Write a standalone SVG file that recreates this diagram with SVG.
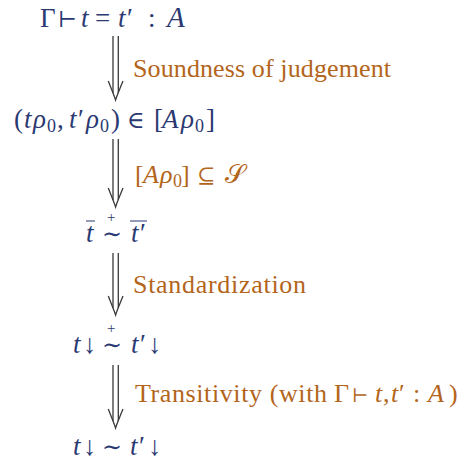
<svg xmlns="http://www.w3.org/2000/svg" width="467" height="466" viewBox="0 0 467 466">
<defs>
<path id="arrowhead" d="M-7.3,-19C-4.6,-12 -1.6,-5 0,0C1.6,-5 4.6,-12 7.4,-19"/>
</defs>
<rect width="467" height="466" fill="#fff"/>
<g id="connectors" fill="none" stroke="#3a3a3a" stroke-width="1.3">
<g id="e1"><path d="M113,36V93M118.3,36V93"/><use href="#arrowhead" x="115.6" y="100"/></g>
<g id="e2"><path d="M113,139V200M118.3,139V200"/><use href="#arrowhead" x="115.6" y="207"/></g>
<g id="e3"><path d="M113,253V308M118.3,253V308"/><use href="#arrowhead" x="115.6" y="315"/></g>
<g id="e4"><path d="M113,365V421M118.3,365V421"/><use href="#arrowhead" x="115.6" y="428"/></g>
</g>
<g id="labels" fill="#b3651b" font-size="26" font-family="Liberation Serif">
<text id="l1" x="133" y="77" textLength="258">Soundness of judgement</text>
<text id="l2" y="183"><tspan x="135">[</tspan><tspan x="143" font-style="italic">A</tspan><tspan x="160" font-style="italic">ρ</tspan><tspan x="173" y="187" font-size="18">0</tspan><tspan x="181" y="183">]</tspan><tspan x="197" font-family="DejaVu Serif" font-size="22">⊆</tspan><tspan x="225" font-family="DejaVu Serif">𝒮</tspan></text>
<text id="l3" x="133" y="293" textLength="173">Standardization</text>
<text id="l4" y="402"><tspan x="135" textLength="192">Transitivity (with</tspan><tspan x="334">Γ</tspan><tspan x="352" font-family="DejaVu Serif" font-size="19">⊢</tspan><tspan x="375" font-style="italic">t</tspan><tspan x="383">,</tspan><tspan x="391" font-style="italic">t</tspan><tspan x="399">′</tspan><tspan x="413">:</tspan><tspan x="428" font-style="italic">A</tspan><tspan x="449">)</tspan></text>
</g>
<g id="nodes" fill="#2b3972" font-size="27" font-family="Liberation Serif">
<g id="n1"><text y="27"><tspan x="40">Γ</tspan><tspan x="58" font-family="DejaVu Serif" font-size="22">⊢</tspan><tspan x="81" font-style="italic">t</tspan><tspan x="95">=</tspan><tspan x="118" font-style="italic">t</tspan><tspan x="127">′</tspan><tspan x="148">:</tspan><tspan x="167" font-style="italic" font-size="29">A</tspan></text></g>
<g id="n2"><text y="128"><tspan x="14">(</tspan><tspan x="24" font-style="italic">t</tspan><tspan x="33" font-style="italic">ρ</tspan><tspan x="47" y="132" font-size="18">0</tspan><tspan x="57" y="128">,</tspan><tspan x="69" font-style="italic">t</tspan><tspan x="78">′</tspan><tspan x="86" font-style="italic">ρ</tspan><tspan x="100" y="132" font-size="18">0</tspan><tspan x="111" y="128">)</tspan><tspan x="127" font-family="DejaVu Serif" font-size="24">∈</tspan><tspan x="154">[</tspan><tspan x="162" font-style="italic">A</tspan><tspan x="181" font-style="italic">ρ</tspan><tspan x="195" y="132" font-size="18">0</tspan><tspan x="206" y="128">]</tspan></text></g>
<g id="n3"><text y="242"><tspan x="86" font-style="italic">t</tspan><tspan x="102" font-family="DejaVu Serif" font-size="24">∼</tspan><tspan x="131" font-style="italic">t</tspan><tspan x="140">′</tspan></text>
<text x="107" y="222" font-size="15">+</text>
<path d="M86,221H95M130,221H147" stroke="#2b3972" stroke-width="1.2"/></g>
<g id="n4"><text y="353"><tspan x="73" font-style="italic">t</tspan><tspan x="83">↓</tspan><tspan x="102" font-family="DejaVu Serif" font-size="24">∼</tspan><tspan x="131" font-style="italic">t</tspan><tspan x="140">′</tspan><tspan x="148">↓</tspan></text>
<text x="107" y="333" font-size="15">+</text></g>
<g id="n5"><text y="455"><tspan x="73" font-style="italic">t</tspan><tspan x="83">↓</tspan><tspan x="102" font-family="DejaVu Serif" font-size="24">∼</tspan><tspan x="130" font-style="italic">t</tspan><tspan x="139">′</tspan><tspan x="148">↓</tspan></text></g>
</g>
</svg>
